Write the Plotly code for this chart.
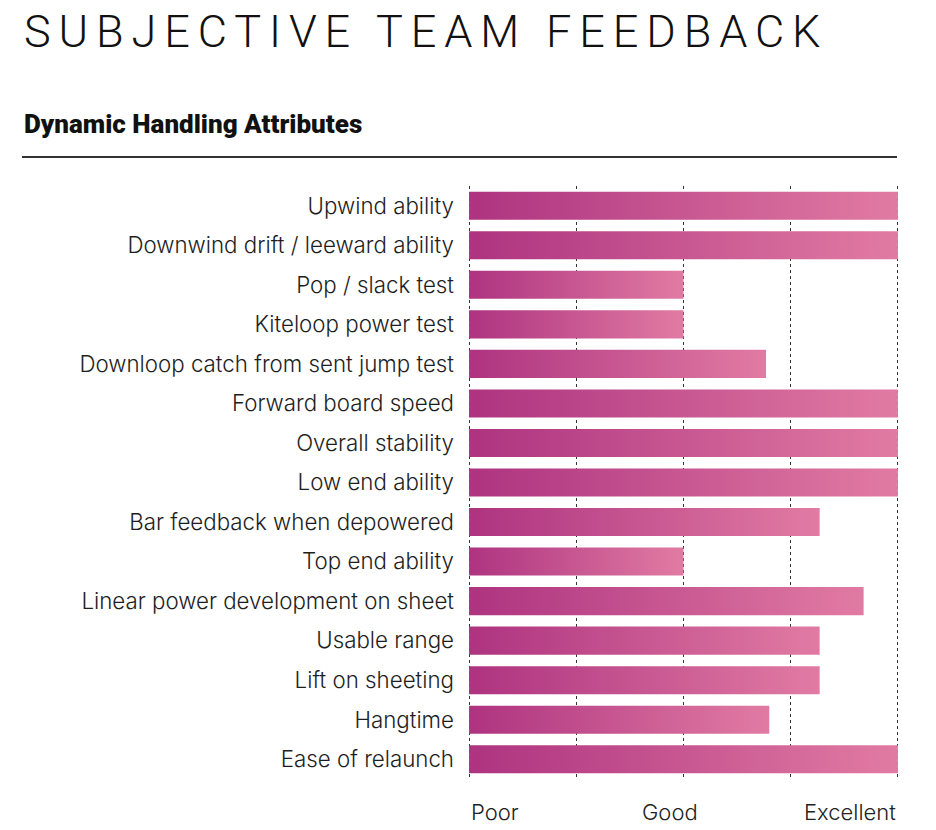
import plotly.graph_objects as go

categories = [
    "Upwind ability",
    "Downwind drift / leeward ability",
    "Pop / slack test",
    "Kiteloop power test",
    "Downloop catch from sent jump test",
    "Forward board speed",
    "Overall stability",
    "Low end ability",
    "Bar feedback when depowered",
    "Top end ability",
    "Linear power development on sheet",
    "Usable range",
    "Lift on sheeting",
    "Hangtime",
    "Ease of relaunch",
]
scores = [4, 4, 2, 2, 2.77, 4, 4, 4, 3.27, 2, 3.68, 3.27, 3.27, 2.8, 4]
scale_labels = ["Poor", "Good", "Excellent"]
scale_values = [0, 2, 4]

title_text = "SUBJECTIVE TEAM FEEDBACK"
subtitle_text = "Dynamic Handling Attributes"

LEFT_C = "#ae3380"
RIGHT_C = "#e17ba3"
HALF = 0.355

fig = go.Figure()
for i, (cat, v) in enumerate(zip(categories, scores)):
    fig.add_trace(go.Scatter(
        x=[0, v, v, 0, 0],
        y=[i - HALF, i - HALF, i + HALF, i + HALF, i - HALF],
        mode="lines",
        line=dict(width=0),
        fill="toself",
        fillgradient=dict(type="horizontal",
                          colorscale=[[0, LEFT_C], [1, RIGHT_C]]),
        name=cat,
        hoverinfo="skip",
        showlegend=False,
    ))

L, R = 468, 37
pw = 936 - L - R
px2paper = lambda px: (px - L) / pw

annotations = [
    dict(text=f'<span style="letter-spacing:7.9px">{title_text}</span>',
         xref="paper", yref="paper", x=px2paper(22), y=1.26, xanchor="left", yanchor="middle",
         showarrow=False, font=dict(family="Roboto", size=45, color="#111", weight=300)),
    dict(text=subtitle_text,
         xref="paper", yref="paper", x=px2paper(22), y=1.105, xanchor="left", yanchor="middle",
         showarrow=False, font=dict(family="Roboto", size=26, color="#111", weight=900)),
]
anchors = ["left", "center", "right"]
shifts = [0, -14, 0]
for lab, val, anc, sh in zip(scale_labels, scale_values, anchors, shifts):
    annotations.append(dict(text=lab, x=val, xref="x", yref="paper", y=0, yshift=-33,
                            xanchor=anc, yanchor="middle", xshift=sh, showarrow=False,
                            font=dict(family="Inter", size=22, color="#222", weight=300)))

line_y = (779 - 157) / 593
fig.update_layout(
    width=936, height=830,
    margin=dict(l=L, r=R, t=186, b=51),
    paper_bgcolor="white", plot_bgcolor="white",
    xaxis=dict(range=[-0.01, 4.01], dtick=1, showgrid=True, gridcolor="#333", griddash="dot",
               gridwidth=1, zeroline=False, showticklabels=False, showline=False,
               fixedrange=True),
    yaxis=dict(range=[14.5, -0.5], tickvals=list(range(len(categories))), ticktext=categories,
               showgrid=False, zeroline=False, showline=False, ticks="",
               ticklabelstandoff=13,
               tickfont=dict(family="Inter", size=22.3, color="#1e1e1e", weight=300),
               fixedrange=True),
    annotations=annotations,
    shapes=[dict(type="line", xref="paper", yref="paper", x0=px2paper(22), x1=px2paper(897),
                 y0=line_y, y1=line_y, line=dict(color="#333", width=2))],
)

fig.write_html("out.html", config={"displayModeBar": False},
               post_script="document.body.style.margin='0';document.body.style.overflow='hidden';")
